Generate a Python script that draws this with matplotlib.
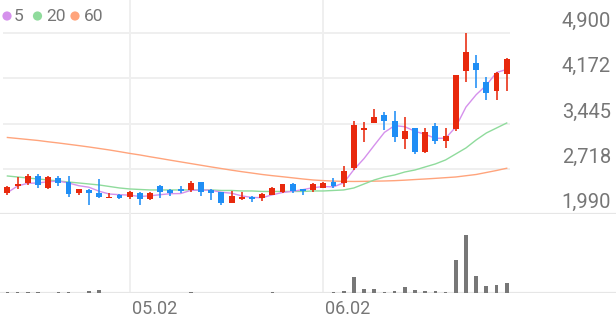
import matplotlib
matplotlib.use("Agg")
import matplotlib.pyplot as plt
import matplotlib.transforms as mtransforms
from matplotlib.patches import Circle
import numpy as np
import pandas as pd

plt.rcParams['font.family'] = ['Roboto', 'DejaVu Sans']

# ---------------- data ----------------
opens = [2327, 2450, 2487, 2609, 2407, 2577, 2513, 2327, 2380, 2327,
         2247, 2295, 2263, 2327, 2231, 2444, 2380, 2395, 2380, 2503,
         2380, 2353, 2177, 2231, 2273, 2247, 2300, 2353, 2471, 2391,
         2380, 2417, 2513, 2487, 2728, 3342, 3449, 3582, 3490, 3192,
         3378, 2994, 3405, 3165, 3352, 4286, 4410, 4115, 3971, 4234]
highs = [2440, 2595, 2637, 2637, 2600, 2605, 2605, 2400, 2391, 2551,
         2337, 2311, 2360, 2353, 2340, 2460, 2391, 2444, 2524, 2503,
         2391, 2353, 2369, 2353, 2284, 2327, 2420, 2471, 2487, 2391,
         2487, 2513, 2567, 2765, 3490, 3474, 3673, 3635, 3650, 3545,
         3378, 3378, 3458, 3378, 4230, 4900, 4543, 4195, 4275, 4500]
lows = [2300, 2390, 2458, 2407, 2400, 2450, 2273, 2300, 2140, 2247,
        2247, 2231, 2230, 2140, 2220, 2257, 2290, 2337, 2353, 2284,
        2220, 2140, 2170, 2220, 2193, 2200, 2300, 2337, 2337, 2300,
        2353, 2407, 2417, 2433, 2701, 3154, 3449, 3341, 3154, 3032,
        2957, 2978, 3112, 3048, 3330, 4115, 4009, 3822, 3822, 3966]
closes = [2433, 2465, 2610, 2460, 2593, 2487, 2311, 2391, 2337, 2273,
          2263, 2257, 2353, 2231, 2327, 2353, 2337, 2364, 2487, 2353,
          2337, 2177, 2284, 2273, 2231, 2316, 2407, 2471, 2369, 2364,
          2471, 2497, 2449, 2689, 3421, 3363, 3554, 3486, 3234, 3330,
          2994, 3314, 3165, 3245, 4222, 4596, 4302, 3929, 4259, 4474]
volumes = [3, 4, 3, 4, 1, 4, 3, 1, 6, 10,
           1, 1, 1, 2, 2, 2, 1, 1, 3, 2,
           2, 2, 2, 1, 1, 1, 3, 1, 1, 1,
           2, 1, 3, 8, 48, 14, 12, 5, 8, 20,
           10, 6, 7, 4, 100, 174, 53, 22, 25, 31]
# first four MA5 values depend on earlier sessions
ma5_head = [2337, 2444, 2487, 2492]
ma20 = [2604, 2588, 2572, 2556, 2540, 2524, 2508, 2492, 2476, 2460,
        2436, 2412, 2396, 2388, 2380, 2380, 2380, 2380, 2380, 2380,
        2380, 2372, 2372, 2364, 2364, 2356, 2356, 2356, 2356, 2356,
        2364, 2364, 2372, 2380, 2412, 2476, 2540, 2588, 2620, 2668,
        2700, 2749, 2797, 2861, 2957, 3053, 3181, 3293, 3373, 3453]
ma60 = [3221, 3205, 3189, 3173, 3152, 3133, 3112, 3091, 3069, 3045,
        3021, 2994, 2966, 2941, 2912, 2885, 2857, 2830, 2803, 2776,
        2749, 2723, 2697, 2673, 2651, 2628, 2609, 2592, 2574, 2556,
        2540, 2530, 2522, 2518, 2516, 2518, 2521, 2524, 2529, 2537,
        2547, 2556, 2566, 2577, 2588, 2608, 2628, 2660, 2692, 2728]
ytick_values = [1990, 2717.5, 3445, 4172.5, 4900]
ytick_labels = ["1,990", "2,718", "3,445", "4,172", "4,900"]
xtick_index = [12, 31]
xtick_labels = ["05.02", "06.02"]
legend_labels = ["5", "20", "60"]

# ---------------- styling ----------------
RED = "#e8290d"
BLUE = "#1f8ef5"
C5, C20, C60 = "#d591ec", "#8fdb9c", "#ffa47c"
GRID = "#efefef"
TXT = "#767676"

W, H = 616, 321
fig = plt.figure(figsize=(W / 100, H / 100), dpi=100)
fig.patch.set_facecolor("white")


def rect(x0, y0, x1, y1):
    return [x0 / W, 1 - y1 / H, (x1 - x0) / W, (y1 - y0) / H]


x0px, step = 7.4, 10.19
xlim = (-x0px / step, (W - x0px) / step)

n = len(closes)
idx = np.arange(n)
o = np.array(opens, float)
h = np.array(highs, float)
l = np.array(lows, float)
c = np.array(closes, float)

ma5 = pd.Series(c).rolling(5).mean().to_numpy()
ma5[:4] = ma5_head

# price axes
ax = fig.add_axes(rect(0, 0, W, 214.3))
ax.set_xlim(*xlim)
ax.set_ylim(1990, 5424)
ax.axis("off")

gx0 = (3 - x0px) / step
gx1 = (510 - x0px) / step
ax.hlines(ytick_values[1:], gx0, gx1, color=GRID, lw=1.4, zorder=0)
ax.axhline(ytick_values[0], color="#e6e6e6", lw=1.6, zorder=0)
for xi in xtick_index:
    ax.axvline(xi, color=GRID, lw=1.4, zorder=0)

up = c >= o
cols = np.where(up, RED, BLUE)
ax.vlines(idx, l, h, colors=cols, lw=1.15, zorder=3)
body_bottom = np.minimum(o, c)
body_h = np.maximum(np.abs(c - o), 28)
ax.bar(idx, body_h, bottom=body_bottom, width=0.58, color=cols, zorder=4,
       linewidth=0)

ax.plot(idx, ma60, color=C60, lw=1.0, zorder=2)
ax.plot(idx, ma20, color=C20, lw=1.0, zorder=2)
ax.plot(idx, ma5, color=C5, lw=1.0, zorder=2)

ylab_tr = mtransforms.offset_copy(
    mtransforms.blended_transform_factory(ax.transAxes, ax.transData),
    fig=fig, x=0, y=6, units="dots")
for v, s in zip(ytick_values, ytick_labels):
    ax.text(611 / W, v, s, transform=ylab_tr, ha="right", va="baseline",
            fontsize=14.5, color=TXT)

# volume axes
vax = fig.add_axes(rect(0, 214.3, W, 293.3))
vax.set_xlim(*xlim)
vax.set_ylim(0, max(volumes) / 0.734)
vax.axis("off")
for xi in xtick_index:
    vax.axvline(xi, color=GRID, lw=1.4, zorder=0)
vax.axhline(0, color="#e6e6e6", lw=1.6, zorder=1)
vax.bar(idx, volumes, width=0.36, color="#777777", zorder=2, linewidth=0)

xlab_tr = mtransforms.offset_copy(
    mtransforms.blended_transform_factory(vax.transData, vax.transAxes),
    fig=fig, x=2, y=0, units="dots")
for xi, s in zip(xtick_index, xtick_labels):
    vax.text(xi, -0.2, s, transform=xlab_tr, ha="left", va="center",
             fontsize=13, color=TXT)

# legend overlay
lax = fig.add_axes([0, 0, 1, 1])
lax.set_xlim(0, W)
lax.set_ylim(H, 0)
lax.axis("off")
lax.patch.set_alpha(0)
leg_pos = [(7, 13.5), (37.5, 46.5), (75, 83.5)]
for (cx, tx), col, s in zip(leg_pos, [C5, C20, C60], legend_labels):
    lax.add_patch(Circle((cx, 16), 4.6, color=col, lw=0))
    lax.text(tx, 16.5, s, ha="left", va="center", fontsize=12.5, color=TXT)

fig.savefig("out.png", dpi=100)
